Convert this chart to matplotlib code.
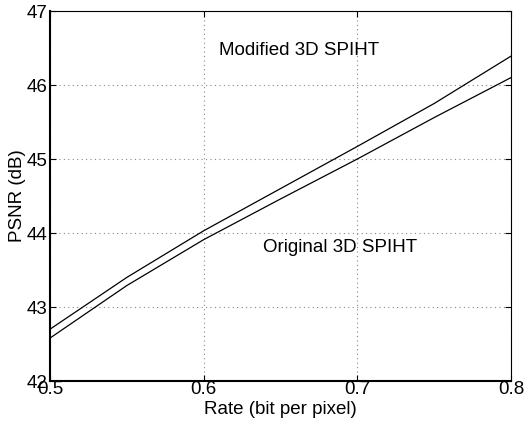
import matplotlib
matplotlib.use("Agg")
import matplotlib.pyplot as plt

plt.rcParams['font.family'] = ['Liberation Sans', 'DejaVu Sans']

rate = [0.5, 0.55, 0.6, 0.65, 0.7, 0.75, 0.8]
psnr_modified = [42.70, 43.40, 44.03, 44.60, 45.17, 45.75, 46.39]
psnr_original = [42.58, 43.29, 43.91, 44.46, 45.00, 45.56, 46.10]

fig = plt.figure(figsize=(5.31, 4.24), dpi=100)
ax = fig.add_axes([50 / 531, 1 - 381 / 424, 461 / 531, 370 / 424])

ax.plot(rate, psnr_modified, color='black', linewidth=0.9)
ax.plot(rate, psnr_original, color='black', linewidth=0.9)

ax.text(0.662, 46.47, "Modified 3D SPIHT", ha='center', va='center', fontsize=13.5)
ax.text(0.689, 43.81, "Original 3D SPIHT", ha='center', va='center', fontsize=13.5)

ax.set_xlim(0.5, 0.8)
ax.set_ylim(42, 47)
ax.set_xticks([0.5, 0.6, 0.7, 0.8])
ax.set_xticklabels(["0.5", "0.6", "0.7", "0.8"])
ax.set_yticks([42, 43, 44, 45, 46, 47])
ax.tick_params(direction='in', top=True, right=True, labelsize=13.5, length=4)
ax.tick_params(axis='x', pad=0)
ax.tick_params(axis='y', pad=2)
ax.grid(True, linestyle=(0, (1, 3)), color='#888888', linewidth=0.8)

for s in ax.spines.values():
    s.set_linewidth(0.8)
ax.spines['left'].set_linewidth(1.5)
ax.spines['bottom'].set_linewidth(1.5)

ax.set_xlabel("Rate (bit per pixel)", fontsize=13.5, labelpad=2)
ax.set_ylabel("PSNR (dB)", fontsize=13.5, labelpad=0)

fig.savefig("out.png", dpi=100)
